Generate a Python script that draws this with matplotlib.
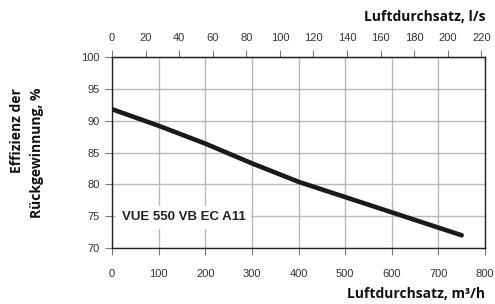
import matplotlib
matplotlib.use("Agg")
import matplotlib.pyplot as plt

# values
airflow_m3h = [0, 100, 200, 300, 400, 500, 600, 700, 750]
efficiency = [91.8, 89.2, 86.4, 83.3, 80.4, 78.0, 75.6, 73.2, 72.0]
x_ticks = [0, 100, 200, 300, 400, 500, 600, 700, 800]
y_ticks = [70, 75, 80, 85, 90, 95, 100]
top_ticks = [0, 20, 40, 60, 80, 100, 120, 140, 160, 180, 200, 220]
model_name = "VUE 550 VB EC A11"

plt.rcParams['font.family'] = ['Liberation Sans', 'DejaVu Sans']

fig = plt.figure(figsize=(4.95, 3.04), dpi=100)
ax = fig.add_axes([0.2263, 0.1842, 0.7535, 0.6283])

ax.plot(airflow_m3h, efficiency, color='#1a1a1a', lw=3.3, solid_capstyle='round', zorder=3)

ax.set_xlim(0, 800)
ax.set_ylim(70, 100)
ax.set_xticks(x_ticks)
ax.set_yticks(y_ticks)
ax.grid(True, color='#b8b8b8', lw=1.0)
ax.set_axisbelow(True)
ax.tick_params(axis='both', labelsize=8, labelcolor='#333333', color='#777777',
               length=5, width=0.8, direction='out', pad=10)
ax.tick_params(axis='y', pad=4)
for s in ax.spines.values():
    s.set_color('#222222')
    s.set_linewidth(1.0)

top = ax.secondary_xaxis('top', functions=(lambda v: v / 3.6, lambda v: v * 3.6))
top.set_xticks(top_ticks)
top.tick_params(labelsize=8, labelcolor='#333333', color='#777777', length=5, width=0.8, pad=5)

ax.text(21, 74.8, model_name, fontsize=9.5, fontweight='bold', color='#222222',
        va='center', ha='left', zorder=4,
        bbox=dict(facecolor='white', edgecolor='none', pad=4))

lab = dict(fontsize=10, fontweight='bold', color='#111111', family=['Open Sans', 'DejaVu Sans'])
fig.text(485 / 495, 1 - 17 / 304, "Luftdurchsatz, l/s", ha='right', va='center', **lab)
fig.text(485 / 495, 1 - 294 / 304, "Luftdurchsatz, m³/h", ha='right', va='center', **lab)
fig.text(17 / 495, 1 - 88 / 304, "Effizienz der", rotation=90, ha='center', va='top', **lab)
fig.text(37 / 495, 1 - 88 / 304, "Rückgewinnung, %", rotation=90, ha='center', va='top', **lab)

fig.savefig("out.png", dpi=100)
